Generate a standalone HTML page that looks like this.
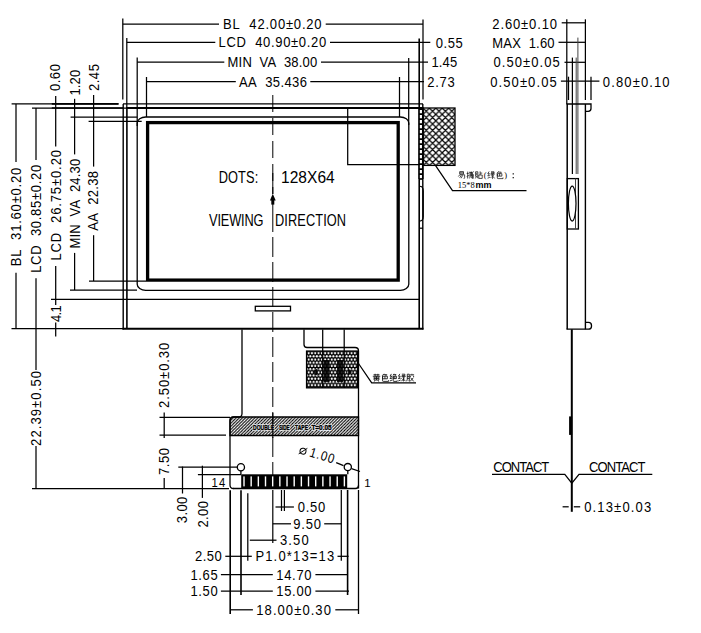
<!DOCTYPE html>
<html><head><meta charset="utf-8"><style>
html,body{margin:0;padding:0;background:#fff;width:701px;height:633px;overflow:hidden;}
svg{display:block;}
text{stroke:none;}
</style></head><body>
<svg width="701" height="633" viewBox="0 0 701 633" stroke="#000" stroke-linecap="butt" font-family="Liberation Sans, sans-serif" fill="#000">
<defs>
<pattern id="xh" patternUnits="userSpaceOnUse" x="423" y="108" width="6.4" height="6.4"><path d="M-1.6,1.6 L1.6,-1.6 M0,6.4 L6.4,0 M4.8,8 L8,4.8 M-1.6,4.8 L1.6,8 M0,0 L6.4,6.4 M4.8,-1.6 L8,1.6" stroke="#000" stroke-width="1.2"/></pattern>
<pattern id="dh" patternUnits="userSpaceOnUse" width="3.1" height="3.1"><path d="M-0.775,0.775 L0.775,-0.775 M0,3.1 L3.1,0 M2.325,3.875 L3.875,2.325" stroke="#000" stroke-width="1.05"/></pattern>
<pattern id="dots" patternUnits="userSpaceOnUse" x="307" y="351.5" width="3.3" height="6.4"><rect x="0" y="0" width="3.3" height="6.4" fill="#000" stroke="none"/><circle cx="1.65" cy="1.6" r="1.1" fill="#fff" stroke="none"/><circle cx="0" cy="4.8" r="1.1" fill="#fff" stroke="none"/><circle cx="3.3" cy="4.8" r="1.1" fill="#fff" stroke="none"/></pattern>
</defs>
<rect x="0" y="0" width="701" height="633" fill="#fff" stroke="none"/>
<line x1="122.8" y1="18.5" x2="122.8" y2="99.5" stroke-width="1.25"/>
<line x1="423" y1="19.5" x2="423" y2="99.5" stroke-width="1.25"/>
<line x1="126.8" y1="38" x2="126.8" y2="108" stroke-width="1.25"/>
<line x1="419.2" y1="38.5" x2="419.2" y2="108" stroke-width="1.6"/>
<line x1="137.2" y1="57.5" x2="137.2" y2="126" stroke-width="1.25"/>
<line x1="408.7" y1="58" x2="408.7" y2="125" stroke-width="1.25"/>
<line x1="146.5" y1="77" x2="146.5" y2="117" stroke-width="1.25"/>
<line x1="399.5" y1="77" x2="399.5" y2="117" stroke-width="1.25"/>
<line x1="122.8" y1="24" x2="219" y2="24" stroke-width="1.25"/>
<line x1="325.7" y1="24" x2="423" y2="24" stroke-width="1.25"/>
<text transform="translate(223,28.90) scale(0.93,1)" x="0" y="0" font-size="14" textLength="106.02" lengthAdjust="spacing" font-weight="normal">BL&#160;&#160;42.00±0.20</text>
<line x1="126.8" y1="42.4" x2="215.3" y2="42.4" stroke-width="1.25"/>
<line x1="330" y1="42.4" x2="430.3" y2="42.4" stroke-width="1.25"/>
<text transform="translate(218.6,47.30) scale(0.93,1)" x="0" y="0" font-size="14" textLength="115.70" lengthAdjust="spacing" font-weight="normal">LCD&#160;&#160;40.90±0.20</text>
<text transform="translate(435.8,47.70) scale(0.93,1)" x="0" y="0" font-size="14" textLength="28.92" lengthAdjust="spacing" font-weight="normal">0.55</text>
<line x1="137.2" y1="62.2" x2="224.3" y2="62.2" stroke-width="1.25"/>
<line x1="321" y1="62.2" x2="428" y2="62.2" stroke-width="1.25"/>
<text transform="translate(227.6,67.10) scale(0.93,1)" x="0" y="0" font-size="14" textLength="96.34" lengthAdjust="spacing" font-weight="normal">MIN&#160;&#160;VA&#160;&#160;38.00</text>
<text transform="translate(431.4,67.30) scale(0.93,1)" x="0" y="0" font-size="14" textLength="27.74" lengthAdjust="spacing" font-weight="normal">1.45</text>
<line x1="146.5" y1="81.6" x2="235.8" y2="81.6" stroke-width="1.25"/>
<line x1="310.3" y1="81.6" x2="424" y2="81.6" stroke-width="1.25"/>
<text transform="translate(238.9,86.50) scale(0.93,1)" x="0" y="0" font-size="14" textLength="73.23" lengthAdjust="spacing" font-weight="normal">AA&#160;&#160;35.436</text>
<text transform="translate(427.2,86.70) scale(0.93,1)" x="0" y="0" font-size="14" textLength="29.68" lengthAdjust="spacing" font-weight="normal">2.73</text>
<line x1="11.6" y1="103.9" x2="118.5" y2="103.9" stroke-width="1.25"/>
<line x1="51.8" y1="103.9" x2="118.5" y2="103.9" stroke-width="1.7"/>
<line x1="32" y1="108" x2="126.8" y2="108" stroke-width="1.25"/>
<line x1="51.8" y1="108" x2="123" y2="108" stroke-width="1.7"/>
<line x1="70.6" y1="117" x2="137.2" y2="117" stroke-width="1.25"/>
<line x1="88.6" y1="121.3" x2="141.7" y2="121.3" stroke-width="1.25"/>
<line x1="89" y1="281" x2="146" y2="281" stroke-width="1.25"/>
<line x1="70" y1="290" x2="137" y2="290" stroke-width="1.25"/>
<line x1="51" y1="299.3" x2="126.8" y2="299.3" stroke-width="1.25"/>
<line x1="11.5" y1="328.6" x2="123" y2="328.6" stroke-width="1.25"/>
<line x1="32" y1="488.5" x2="229" y2="488.5" stroke-width="1.25"/>
<line x1="16" y1="103.9" x2="16" y2="162" stroke-width="1.25"/>
<line x1="16" y1="272.8" x2="16" y2="328.6" stroke-width="1.25"/>
<text transform="translate(20.90,266.2) rotate(-90) scale(0.93,1)" x="0" y="0" font-size="14" textLength="105.9" lengthAdjust="spacing" font-weight="normal">BL&#160;&#160;31.60±0.20</text>
<line x1="36" y1="108" x2="36" y2="160" stroke-width="1.25"/>
<line x1="36" y1="278.3" x2="36" y2="370" stroke-width="1.25"/>
<line x1="36" y1="446" x2="36" y2="488.5" stroke-width="1.25"/>
<text transform="translate(40.90,272.8) rotate(-90) scale(0.93,1)" x="0" y="0" font-size="14" textLength="116.1" lengthAdjust="spacing" font-weight="normal">LCD&#160;&#160;30.85±0.20</text>
<text transform="translate(40.70,445.9) rotate(-90) scale(0.93,1)" x="0" y="0" font-size="14" textLength="80.5" lengthAdjust="spacing" font-weight="normal">22.39±0.50</text>
<line x1="55.7" y1="96" x2="55.7" y2="146.6" stroke-width="1.25"/>
<line x1="55.7" y1="266" x2="55.7" y2="305" stroke-width="1.25"/>
<line x1="55.7" y1="322.5" x2="55.7" y2="336.5" stroke-width="1.25"/>
<text transform="translate(60.30,91.1) rotate(-90) scale(0.93,1)" x="0" y="0" font-size="14" textLength="29.0" lengthAdjust="spacing" font-weight="normal">0.60</text>
<text transform="translate(60.90,260.6) rotate(-90) scale(0.93,1)" x="0" y="0" font-size="14" textLength="118.9" lengthAdjust="spacing" font-weight="normal">LCD&#160;&#160;26.75±0.20</text>
<text transform="translate(60.90,322) rotate(-90) scale(0.93,1)" x="0" y="0" font-size="14" textLength="18.1" lengthAdjust="spacing" font-weight="normal">4.1</text>
<line x1="74.6" y1="98.8" x2="74.6" y2="154.4" stroke-width="1.25"/>
<line x1="74.6" y1="252.9" x2="74.6" y2="290" stroke-width="1.25"/>
<text transform="translate(79.90,95.5) rotate(-90) scale(0.93,1)" x="0" y="0" font-size="14" textLength="27.6" lengthAdjust="spacing" font-weight="normal">1.20</text>
<text transform="translate(79.60,248.5) rotate(-90) scale(0.93,1)" x="0" y="0" font-size="14" textLength="96.5" lengthAdjust="spacing" font-weight="normal">MIN&#160;&#160;VA&#160;&#160;24.30</text>
<line x1="93.6" y1="95" x2="93.6" y2="166.6" stroke-width="1.25"/>
<line x1="93.6" y1="235.2" x2="93.6" y2="281" stroke-width="1.25"/>
<text transform="translate(98.60,91.1) rotate(-90) scale(0.93,1)" x="0" y="0" font-size="14" textLength="29.0" lengthAdjust="spacing" font-weight="normal">2.45</text>
<text transform="translate(98.40,230.7) rotate(-90) scale(0.93,1)" x="0" y="0" font-size="14" textLength="64.2" lengthAdjust="spacing" font-weight="normal">AA&#160;&#160;22.38</text>
<line x1="123.2" y1="104" x2="123.2" y2="329.5" stroke-width="1.4"/>
<line x1="123" y1="103.9" x2="423" y2="103.9" stroke-width="1.25"/>
<line x1="422.8" y1="104" x2="422.8" y2="329.5" stroke-width="1.4"/>
<line x1="126.9" y1="107.5" x2="126.9" y2="329" stroke-width="1.6"/>
<line x1="126" y1="108" x2="419.5" y2="108" stroke-width="2"/>
<line x1="419.2" y1="108" x2="419.2" y2="329" stroke-width="1.6"/>
<line x1="122.5" y1="328.8" x2="423.5" y2="328.8" stroke-width="2"/>
<line x1="126.8" y1="299.3" x2="419.2" y2="299.3" stroke-width="1.25"/>
<rect x="137.2" y="117" width="271.6" height="173.3" rx="8.5" ry="6" stroke-width="1.3" fill="none"/>
<rect x="147.6" y="122.6" width="250.6" height="157.5" rx="0" stroke-width="3.3" fill="none"/>
<rect x="255.3" y="306.3" width="35.2" height="4.6" rx="0" stroke-width="1.3" fill="none"/>
<line x1="272.8" y1="95" x2="272.8" y2="194" stroke-width="1.0" stroke-dasharray="17 6"/>
<line x1="272.8" y1="173" x2="272.8" y2="194" stroke-width="1.0"/>
<line x1="272.8" y1="204" x2="272.8" y2="212" stroke-width="1.0"/>
<line x1="272.8" y1="212" x2="272.8" y2="488" stroke-width="1.0" stroke-dasharray="20 5"/>
<line x1="272.8" y1="490" x2="272.8" y2="543" stroke-width="1.2"/>
<path d="M272.8,193.8 L269.9,200.6 L275.7,200.6 Z" stroke="none"/>
<line x1="272.8" y1="200" x2="272.8" y2="204.6" stroke-width="3"/>
<text transform="translate(218.7,183.40) scale(0.8,1)" x="0" y="0" font-size="16" textLength="49.38" lengthAdjust="spacing" font-weight="normal">DOTS:</text>
<text transform="translate(281,183.40) scale(0.97,1)" x="0" y="0" font-size="16" textLength="55.36" lengthAdjust="spacing" font-weight="normal">128X64</text>
<text transform="translate(209.1,225.60) scale(0.8,1)" x="0" y="0" font-size="16" textLength="68.00" lengthAdjust="spacing" font-weight="normal">VIEWING</text>
<text transform="translate(274.9,225.60) scale(0.8,1)" x="0" y="0" font-size="16" textLength="89.00" lengthAdjust="spacing" font-weight="normal">DIRECTION</text>
<rect x="418.4" y="107" width="5.2" height="72" fill="#000" stroke="none"/>
<line x1="420.9" y1="110" x2="420.9" y2="179" stroke-width="2.1" stroke="#fff" stroke-dasharray="3.2 1.8"/>
<line x1="419.2" y1="179.2" x2="423" y2="179.2" stroke-width="1.25"/>
<line x1="419.2" y1="228.2" x2="423" y2="228.2" stroke-width="1.25"/>
<path d="M419.5,186.3 Q423.3,186.3 423.3,191 L423.3,216.5 Q423.3,221.1 419.5,221.1" stroke-width="1.1" fill="none"/>
<rect x="423.2" y="108" width="31.8" height="57.4" rx="0" stroke-width="1.3" fill="url(#xh)"/>
<path d="M347.7,108 L347.7,164.5 L419.6,164.5" stroke-width="1.25" fill="none"/>
<path d="M435.6,165.6 L452.5,190.5 L526.5,190.5" stroke-width="1.25" fill="none"/>
<path d="M242,329.5 L242,413.5 Q242,417 238.5,417 L233.5,417 Q230,417 230,420.5 L230,485 Q230,488.5 233.5,488.5" stroke-width="1.3" fill="none"/>
<path d="M304,329.5 L304,344.5 Q304,347.5 307,347.5 L355,347.5 Q358.5,347.5 358.5,351 L358.5,488.5" stroke-width="1.3" fill="none"/>
<line x1="322.7" y1="329.5" x2="322.7" y2="351" stroke-width="1.25"/>
<line x1="344.2" y1="329.5" x2="344.2" y2="351" stroke-width="1.25"/>
<rect x="306.6" y="351.1" width="51" height="36.7" rx="0" stroke-width="1.4" fill="url(#dots)"/>
<path d="M312.5,372 l5,-4 v8 z M323.5,360 h6 v22 h-6z M337,360 h6 v22 h-6z M352,372 l-4,-4 v8 z" fill="#000" stroke="none" opacity="0.85"/>
<line x1="322.7" y1="351" x2="322.7" y2="388" stroke-width="1.2"/>
<line x1="344.2" y1="351" x2="344.2" y2="388" stroke-width="1.2"/>
<path d="M358.5,363.5 L371.7,382.8 L416,382.8" stroke-width="1.25" fill="none"/>
<path d="M230,435.5 L230,421 Q230,417 234,417 L358.5,417 L358.5,435.5 Z" stroke-width="1.3" fill="url(#dh)"/>
<text x="253.1" y="429.6" font-size="7.8" font-weight="bold" textLength="21" lengthAdjust="spacingAndGlyphs" style="stroke:#fff;stroke-width:2px;stroke-linejoin:round">DOUBLE</text>
<text x="253.1" y="429.6" font-size="7.8" font-weight="bold" textLength="21" lengthAdjust="spacingAndGlyphs" style="stroke:#000;stroke-width:0.45px">DOUBLE</text>
<text x="278.9" y="429.6" font-size="7.8" font-weight="bold" textLength="10.8" lengthAdjust="spacingAndGlyphs" style="stroke:#fff;stroke-width:2px;stroke-linejoin:round">SIDE</text>
<text x="278.9" y="429.6" font-size="7.8" font-weight="bold" textLength="10.8" lengthAdjust="spacingAndGlyphs" style="stroke:#000;stroke-width:0.45px">SIDE</text>
<text x="295.1" y="429.6" font-size="7.8" font-weight="bold" textLength="12.9" lengthAdjust="spacingAndGlyphs" style="stroke:#fff;stroke-width:2px;stroke-linejoin:round">TAPE</text>
<text x="295.1" y="429.6" font-size="7.8" font-weight="bold" textLength="12.9" lengthAdjust="spacingAndGlyphs" style="stroke:#000;stroke-width:0.45px">TAPE</text>
<text x="311.4" y="429.6" font-size="7.8" font-weight="bold" textLength="20.3" lengthAdjust="spacingAndGlyphs" style="stroke:#fff;stroke-width:2px;stroke-linejoin:round">T=0.05</text>
<text x="311.4" y="429.6" font-size="7.8" font-weight="bold" textLength="20.3" lengthAdjust="spacingAndGlyphs" style="stroke:#000;stroke-width:0.45px">T=0.05</text>
<line x1="272.8" y1="413" x2="272.8" y2="438" stroke-width="1.1"/>
<path d="M233,488.5 L355.5,488.5 Q358.5,488.5 358.5,485.5" stroke-width="1.4" fill="none"/>
<rect x="241.2" y="474.3" width="106" height="14" fill="#000" stroke="none"/>
<rect x="243.30" y="476.4" width="1.4" height="10" fill="#fff" stroke="none"/>
<rect x="250.47" y="476.4" width="1.4" height="10" fill="#fff" stroke="none"/>
<rect x="257.64" y="476.4" width="1.4" height="10" fill="#fff" stroke="none"/>
<rect x="264.81" y="476.4" width="1.4" height="10" fill="#fff" stroke="none"/>
<rect x="271.98" y="476.4" width="1.4" height="10" fill="#fff" stroke="none"/>
<rect x="279.15" y="476.4" width="1.4" height="10" fill="#fff" stroke="none"/>
<rect x="286.32" y="476.4" width="1.4" height="10" fill="#fff" stroke="none"/>
<rect x="293.49" y="476.4" width="1.4" height="10" fill="#fff" stroke="none"/>
<rect x="300.66" y="476.4" width="1.4" height="10" fill="#fff" stroke="none"/>
<rect x="307.83" y="476.4" width="1.4" height="10" fill="#fff" stroke="none"/>
<rect x="315.00" y="476.4" width="1.4" height="10" fill="#fff" stroke="none"/>
<rect x="322.17" y="476.4" width="1.4" height="10" fill="#fff" stroke="none"/>
<rect x="329.34" y="476.4" width="1.4" height="10" fill="#fff" stroke="none"/>
<rect x="336.51" y="476.4" width="1.4" height="10" fill="#fff" stroke="none"/>
<rect x="343.68" y="476.4" width="1.4" height="10" fill="#fff" stroke="none"/>
<circle cx="240.9" cy="467.2" r="3.6" fill="#fff" stroke-width="1.3"/>
<circle cx="347.8" cy="467.1" r="3.6" fill="#fff" stroke-width="1.3"/>
<line x1="240.9" y1="470.8" x2="240.9" y2="474.3" stroke-width="1.3"/>
<line x1="347.8" y1="470.8" x2="347.8" y2="474.3" stroke-width="1.3"/>
<path d="M336.2,462.6 L343.5,465.7 M351.5,468.6 L360,471.5" stroke-width="1.25" fill="none"/>
<text transform="translate(308.8,456.2) rotate(17) scale(0.85,1)" font-size="13.5" textLength="29.5" lengthAdjust="spacing">1.00</text>
<g transform="translate(303,451.2) rotate(10)"><ellipse cx="0" cy="0" rx="3" ry="2.9" fill="none" stroke-width="1.0"/><line x1="-3.8" y1="3.4" x2="3.8" y2="-3.6" stroke-width="0.9"/></g>
<text transform="translate(211.5,487.18) scale(0.9,1)" x="0" y="0" font-size="12.5" textLength="15.33" lengthAdjust="spacing" font-weight="normal">14</text>
<text x="364.2" y="487.3" font-size="11.5">1</text>
<line x1="159.5" y1="417.3" x2="230" y2="417.3" stroke-width="1.25"/>
<line x1="159.5" y1="435.2" x2="226" y2="435.2" stroke-width="1.25"/>
<line x1="164.2" y1="412.4" x2="164.2" y2="438" stroke-width="1.25"/>
<line x1="164.2" y1="478" x2="164.2" y2="488.5" stroke-width="1.25"/>
<text transform="translate(169.10,408) rotate(-90) scale(0.93,1)" x="0" y="0" font-size="14" textLength="70.2" lengthAdjust="spacing" font-weight="normal">2.50±0.30</text>
<text transform="translate(168.90,475) rotate(-90) scale(0.93,1)" x="0" y="0" font-size="14" textLength="29.0" lengthAdjust="spacing" font-weight="normal">7.50</text>
<line x1="178.3" y1="467" x2="237" y2="467" stroke-width="1.25"/>
<line x1="197.9" y1="474.5" x2="241.2" y2="474.5" stroke-width="1.25"/>
<line x1="182.5" y1="466.6" x2="182.5" y2="493.5" stroke-width="1.25"/>
<line x1="202.4" y1="465.7" x2="202.4" y2="497.9" stroke-width="1.25"/>
<text transform="translate(187.40,523.2) rotate(-90) scale(0.93,1)" x="0" y="0" font-size="14" textLength="28.5" lengthAdjust="spacing" font-weight="normal">3.00</text>
<text transform="translate(207.50,527.6) rotate(-90) scale(0.93,1)" x="0" y="0" font-size="14" textLength="28.6" lengthAdjust="spacing" font-weight="normal">2.00</text>
<line x1="230.2" y1="490.3" x2="230.2" y2="614" stroke-width="1.6"/>
<line x1="241" y1="490.3" x2="241" y2="595" stroke-width="1.6"/>
<line x1="247.8" y1="493.3" x2="247.8" y2="560.7" stroke-width="1.25"/>
<line x1="281.5" y1="490" x2="281.5" y2="511" stroke-width="1.25"/>
<line x1="284.4" y1="490" x2="284.4" y2="511" stroke-width="1.25"/>
<line x1="341.3" y1="490" x2="341.3" y2="560.8" stroke-width="1.25"/>
<line x1="347.6" y1="490" x2="347.6" y2="595" stroke-width="1.6"/>
<line x1="358.5" y1="490" x2="358.5" y2="614" stroke-width="1.3"/>
<line x1="275.5" y1="507" x2="293.9" y2="507" stroke-width="1.25"/>
<text transform="translate(297.7,511.70) scale(0.93,1)" x="0" y="0" font-size="14" textLength="29.68" lengthAdjust="spacing" font-weight="normal">0.50</text>
<line x1="272.8" y1="523.8" x2="291" y2="523.8" stroke-width="1.25"/>
<line x1="324.2" y1="523.8" x2="341.3" y2="523.8" stroke-width="1.25"/>
<text transform="translate(293.2,528.50) scale(0.93,1)" x="0" y="0" font-size="14" textLength="29.78" lengthAdjust="spacing" font-weight="normal">9.50</text>
<line x1="249.8" y1="540.2" x2="276.5" y2="540.2" stroke-width="1.25"/>
<text transform="translate(280,545.10) scale(0.93,1)" x="0" y="0" font-size="14" textLength="30.86" lengthAdjust="spacing" font-weight="normal">3.50</text>
<line x1="225.3" y1="556.3" x2="251.8" y2="556.3" stroke-width="1.25"/>
<line x1="337.5" y1="556.3" x2="348.6" y2="556.3" stroke-width="1.25"/>
<text transform="translate(195.1,561.20) scale(0.93,1)" x="0" y="0" font-size="14" textLength="28.71" lengthAdjust="spacing" font-weight="normal">2.50</text>
<text transform="translate(255.4,561.20) scale(0.93,1)" x="0" y="0" font-size="14" textLength="84.73" lengthAdjust="spacing" font-weight="normal">P1.0*13=13</text>
<line x1="220.9" y1="574.7" x2="272.8" y2="574.7" stroke-width="1.25"/>
<line x1="315.4" y1="574.7" x2="347.6" y2="574.7" stroke-width="1.25"/>
<text transform="translate(190.4,579.60) scale(0.93,1)" x="0" y="0" font-size="14" textLength="29.35" lengthAdjust="spacing" font-weight="normal">1.65</text>
<text transform="translate(276.2,579.60) scale(0.93,1)" x="0" y="0" font-size="14" textLength="38.06" lengthAdjust="spacing" font-weight="normal">14.70</text>
<line x1="220.9" y1="591.1" x2="272.8" y2="591.1" stroke-width="1.25"/>
<line x1="315.4" y1="591.1" x2="349" y2="591.1" stroke-width="1.25"/>
<text transform="translate(190.4,596.00) scale(0.93,1)" x="0" y="0" font-size="14" textLength="29.35" lengthAdjust="spacing" font-weight="normal">1.50</text>
<text transform="translate(276.2,596.00) scale(0.93,1)" x="0" y="0" font-size="14" textLength="38.06" lengthAdjust="spacing" font-weight="normal">15.00</text>
<line x1="230.2" y1="609.8" x2="252.9" y2="609.8" stroke-width="1.25"/>
<line x1="335.3" y1="609.8" x2="358.5" y2="609.8" stroke-width="1.25"/>
<text transform="translate(256.3,614.50) scale(0.93,1)" x="0" y="0" font-size="14" textLength="80.22" lengthAdjust="spacing" font-weight="normal">18.00±0.30</text>
<text transform="translate(492.3,28.50) scale(0.93,1)" x="0" y="0" font-size="14" textLength="69.57" lengthAdjust="spacing" font-weight="normal">2.60±0.10</text>
<line x1="561.7" y1="22.8" x2="585.4" y2="22.8" stroke-width="1.25"/>
<text transform="translate(492.3,47.60) scale(0.93,1)" x="0" y="0" font-size="14" textLength="66.99" lengthAdjust="spacing" font-weight="normal">MAX&#160;&#160;1.60</text>
<line x1="558.5" y1="42.3" x2="585.4" y2="42.3" stroke-width="1.25"/>
<text transform="translate(493.6,67.20) scale(0.93,1)" x="0" y="0" font-size="14" textLength="71.08" lengthAdjust="spacing" font-weight="normal">0.50±0.05</text>
<line x1="564.5" y1="62.3" x2="585.4" y2="62.3" stroke-width="1.25"/>
<text transform="translate(490.2,86.50) scale(0.93,1)" x="0" y="0" font-size="14" textLength="71.51" lengthAdjust="spacing" font-weight="normal">0.50±0.05</text>
<line x1="560.9" y1="81.2" x2="599.4" y2="81.2" stroke-width="1.25"/>
<text transform="translate(602.8,86.70) scale(0.93,1)" x="0" y="0" font-size="14" textLength="71.83" lengthAdjust="spacing" font-weight="normal">0.80±0.10</text>
<line x1="566.8" y1="19.3" x2="566.8" y2="104" stroke-width="1.25"/>
<line x1="585.4" y1="19.3" x2="585.4" y2="100" stroke-width="1.25"/>
<line x1="577.9" y1="37.6" x2="577.9" y2="174" stroke-width="1.0" stroke="#444"/>
<line x1="572.4" y1="57.6" x2="572.4" y2="174" stroke-width="1.25"/>
<line x1="576.2" y1="57.6" x2="576.2" y2="174" stroke-width="1.0" stroke="#444"/>
<line x1="568.5" y1="76.7" x2="568.5" y2="100" stroke-width="1.25"/>
<line x1="591" y1="76.7" x2="591" y2="100" stroke-width="1.25"/>
<line x1="567.2" y1="104" x2="567.2" y2="329.3" stroke-width="1.5"/>
<line x1="585.4" y1="104" x2="585.4" y2="329.3" stroke-width="1.4"/>
<path d="M566.5,104 L591,104 L591,108.5 Q591,111.3 588.2,111.3 L585.4,111.3" stroke-width="1.3" fill="none"/>
<path d="M566.5,329.2 L588.4,329.2 Q591.5,329.2 591.5,326.2 L591.5,325.4 Q591.5,322.3 588.4,322.3 L585.4,322.3" stroke-width="1.3" fill="none"/>
<rect x="567.3" y="178.6" width="11.1" height="50.4" rx="0" stroke-width="1.3" fill="none"/>
<line x1="575.5" y1="178.6" x2="575.5" y2="229" stroke-width="1.0" stroke="#444"/>
<ellipse cx="572.2" cy="203.6" rx="3.8" ry="17.5" fill="#fff" stroke-width="1.2"/>
<line x1="571.8" y1="329.3" x2="571.8" y2="511.8" stroke-width="2"/>
<line x1="570.6" y1="416.4" x2="570.6" y2="434.9" stroke-width="3"/>
<path d="M492,474.4 L564.8,474.4 L571.8,483.2 L579,474.4 L652.3,474.4" stroke-width="1.25" fill="none"/>
<text transform="translate(493.3,471.80) scale(0.93,1)" x="0" y="0" font-size="14" textLength="60.22" lengthAdjust="spacing" font-weight="normal">CONTACT</text>
<text transform="translate(589,471.80) scale(0.93,1)" x="0" y="0" font-size="14" textLength="60.75" lengthAdjust="spacing" font-weight="normal">CONTACT</text>
<line x1="562.6" y1="506.8" x2="568.7" y2="506.8" stroke-width="1.25"/>
<line x1="573.8" y1="506.8" x2="580.2" y2="506.8" stroke-width="1.25"/>
<text transform="translate(584.2,511.90) scale(0.93,1)" x="0" y="0" font-size="14" textLength="72.04" lengthAdjust="spacing" font-weight="normal">0.13±0.03</text>
<path transform="translate(457.80,171.20) scale(0.9500)" d="M2,0.4 H6 V3 H2 Z M2,1.7 H6 M2.2,3.6 L0.6,5.6 M2.2,3.8 H7.2 V7 Q7.2,7.8 6.2,7.6 M3.6,4.4 L2,7 M5,4.4 L3.6,7.4" fill="none" stroke="#111" stroke-width="0.789" stroke-linejoin="round"/>
<path transform="translate(466.40,171.20) scale(0.9500)" d="M0.3,2.4 H2.4 M1.4,0.4 V7.4 L0.8,7 M0.3,5.6 L2.6,4.4 M3.2,1.4 H6 M3.8,0.4 V5.2 M5.4,0.4 V5.2 M3.8,2.8 H5.4 M3.8,4 H5.4 M3,5.2 H6.2 M4,6 L3.2,7.6 M5.2,6 L6,7.6 M7.8,0.4 L6.4,1.2 V7.8 M6.4,3.8 H7.8 M7.2,3.8 V7.8" fill="none" stroke="#111" stroke-width="0.789" stroke-linejoin="round"/>
<path transform="translate(475.00,171.20) scale(0.9500)" d="M0.6,0.6 H3 V5.4 H0.6 Z M1.8,1.6 V4.2 M1.4,5.8 L0.4,7.6 M2.4,5.8 L3.2,7.6 M5.4,0.2 V4 M5.4,2 H7.6 M4,4 H7.6 V7.6 H4 Z" fill="none" stroke="#111" stroke-width="0.789" stroke-linejoin="round"/>
<text x="483.8" y="178.3" font-size="8.5" font-family="Liberation Serif, serif">(</text>
<path transform="translate(487.20,171.20) scale(0.9500)" d="M2,0.3 L0.6,2.6 L2.4,2.6 L0.6,5 L2.8,4.6 M0.4,7.4 L2.8,6.4 M4,0.6 H7.2 V2.6 H3.8 M4,1.6 H7.2 M3.6,3.2 H7.8 M5.6,3.2 V7.8 L5,7.4 M4,4.2 L4.8,5 M3.6,7 L5,5.6 M7.2,4.2 L6.2,5.2 M6,5.4 L7.8,7.6" fill="none" stroke="#111" stroke-width="0.789" stroke-linejoin="round"/>
<path transform="translate(495.80,171.20) scale(0.9500)" d="M3,0.2 L1.2,2.2 M2.6,1 H5.8 L4.6,2.4 M1.6,2.6 H6.4 V5.2 H1.6 Z M4,2.6 V5.2 M1.6,2.6 V7.2 Q1.6,7.8 2.4,7.8 H7.6 V6.6" fill="none" stroke="#111" stroke-width="0.789" stroke-linejoin="round"/>
<text x="504.2" y="178.3" font-size="8.5" font-family="Liberation Serif, serif">)</text>
<rect x="512.6" y="173.2" width="1.3" height="1.3" fill="#222" stroke="none"/><rect x="512.6" y="177" width="1.3" height="1.3" fill="#222" stroke="none"/>
<text x="457.8" y="188" font-size="8.6" font-family="Liberation Serif, serif" textLength="17" lengthAdjust="spacingAndGlyphs">15*8</text>
<text x="475.4" y="188" font-size="8.6" font-weight="bold" font-family="Liberation Sans, sans-serif" textLength="16" lengthAdjust="spacingAndGlyphs">mm</text>
<path transform="translate(372.50,373.60) scale(1.0000)" d="M1,1.2 H7 M2.6,0.2 V2.4 M5.4,0.2 V2.4 M0.3,2.7 H7.7 M1.6,3.5 H6.4 V6.4 H1.6 Z M1.6,4.9 H6.4 M4,2.7 V6.4 M2.8,6.8 L1.4,7.8 M5.2,6.8 L6.6,7.8" fill="none" stroke="#111" stroke-width="0.850" stroke-linejoin="round"/>
<path transform="translate(380.95,373.60) scale(1.0000)" d="M3,0.2 L1.2,2.2 M2.6,1 H5.8 L4.6,2.4 M1.6,2.6 H6.4 V5.2 H1.6 Z M4,2.6 V5.2 M1.6,2.6 V7.2 Q1.6,7.8 2.4,7.8 H7.6 V6.6" fill="none" stroke="#111" stroke-width="0.850" stroke-linejoin="round"/>
<path transform="translate(389.40,373.60) scale(1.0000)" d="M2,0.3 L0.6,2.6 L2.4,2.6 L0.6,5 L2.8,4.6 M0.4,7.4 L2.8,6.4 M4.6,0.2 L3.6,1.8 M4.4,1 H6.6 L6,2 M3.8,2.6 H7 V5 H3.8 Z M5.4,2.6 V5 M3.8,2.6 V7.2 Q3.8,7.8 4.6,7.8 H7.8 V6.8" fill="none" stroke="#111" stroke-width="0.850" stroke-linejoin="round"/>
<path transform="translate(397.85,373.60) scale(1.0000)" d="M2,0.3 L0.6,2.6 L2.4,2.6 L0.6,5 L2.8,4.6 M0.4,7.4 L2.8,6.4 M4,0.6 H7 V2 H4 M3.6,2.8 H7.8 M5.6,2.8 V7.8 M4.4,4 L3.6,5 M7,4 L4.6,6 M5.6,5.4 L7.6,7.6 M4.8,6.2 L3.6,7.6" fill="none" stroke="#111" stroke-width="0.850" stroke-linejoin="round"/>
<path transform="translate(406.30,373.60) scale(1.0000)" d="M1,0.6 H3 V7.6 L2.4,7.2 M1,0.6 V5.6 L0.4,7.6 M1,2.8 H3 M1,4.8 H3 M5.6,0.2 V1 M3.8,1.2 H7.8 M4.6,2 L3.8,3.4 M6.8,2 L7.6,3.4 M4.2,4 L7.4,7.8 M7.2,4 L3.8,7.8" fill="none" stroke="#111" stroke-width="0.850" stroke-linejoin="round"/>
</svg>
</body></html>
